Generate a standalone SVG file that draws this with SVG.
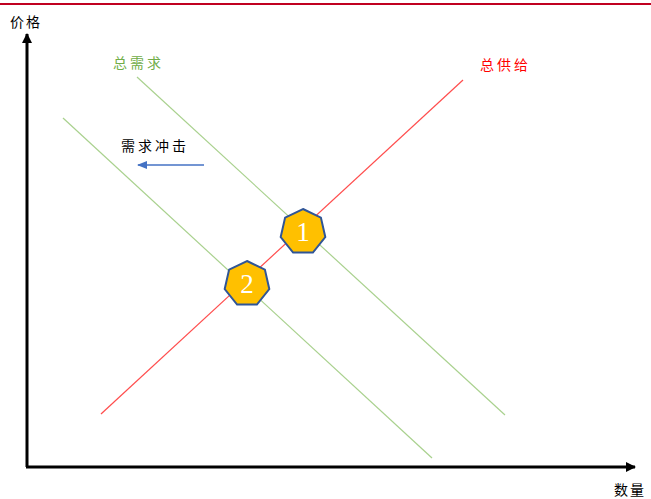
<svg xmlns="http://www.w3.org/2000/svg" width="651" height="499" viewBox="0 0 651 499">
<style>
.t{font-family:"Noto Sans CJK SC","Noto Sans",sans-serif;font-size:14px}
.hep{fill:#FFC000;stroke:#2F5597;stroke-width:2}
.num{font-family:"Liberation Serif",serif;font-size:27px;fill:#fff;text-anchor:middle}
</style>
<defs>
<marker id="ah" markerWidth="10" markerHeight="10" refX="9" refY="5" orient="auto" markerUnits="userSpaceOnUse"><path d="M0,0 L10,5 L0,10 Z" fill="#000"/></marker>
<marker id="ab" markerWidth="10" markerHeight="8" refX="9" refY="4" orient="auto" markerUnits="userSpaceOnUse"><path d="M0,0 L10,4 L0,8 Z" fill="#4472C4"/></marker>
</defs>
<rect width="651" height="499" fill="#fff"/>
<line x1="0" y1="4" x2="651" y2="4" stroke="#C00020" stroke-width="2"/>
<g id="connectors">
<line x1="27" y1="467" x2="27" y2="34" stroke="#000" stroke-width="3" marker-end="url(#ah)"/>
<line x1="26" y1="467" x2="635" y2="467" stroke="#000" stroke-width="3" marker-end="url(#ah)"/>
<line x1="101" y1="414" x2="463" y2="80" stroke="#FF4D4D" stroke-width="1.2"/>
<line x1="137" y1="77" x2="505" y2="415" stroke="#A9D18E" stroke-width="1.2"/>
<line x1="63" y1="118" x2="432" y2="458" stroke="#A9D18E" stroke-width="1.2"/>
<line x1="204" y1="165" x2="138" y2="165" stroke="#4472C4" stroke-width="1.5" marker-end="url(#ab)"/>
</g>
<g id="labels">
<text class="t" x="10" y="27" letter-spacing="2" fill="#000">价格</text>
<text class="t" x="614" y="495" letter-spacing="2" fill="#000">数量</text>
<text class="t" x="113" y="68" letter-spacing="3" fill="#70AD47">总需求</text>
<text class="t" x="480" y="70" letter-spacing="3" fill="#FF0000">总供给</text>
<text class="t" x="121" y="151" letter-spacing="3" font-size="15" fill="#000">需求冲击</text>
</g>
<g id="node1">
<polygon class="hep" points="303.0,209.0 320.9,217.6 325.3,237.0 312.9,252.5 293.1,252.5 280.7,237.0 285.1,217.6"/>
<text class="num" x="303" y="241">1</text>
</g>
<g id="node2">
<polygon class="hep" points="247.0,261.0 264.9,269.6 269.3,289.0 256.9,304.5 237.1,304.5 224.7,289.0 229.1,269.6"/>
<text class="num" x="247" y="293">2</text>
</g>
</svg>
